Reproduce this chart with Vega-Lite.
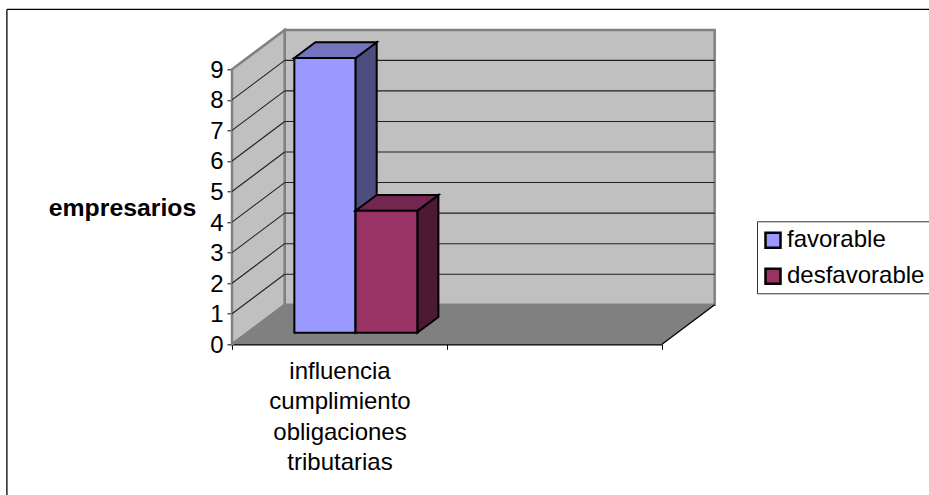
{"$schema":"https://vega.github.io/schema/vega-lite/v6.json","width":430,"height":275,"autosize":{"type":"none"},"padding":{"left":232,"top":69.3,"right":267,"bottom":150.7},"background":"white",
"datasets":{
"walls":[{"part":"back","x":0.245,"y":1.293,"y2":10.29},{"part":"back","x":2.245,"y":1.293,"y2":10.29},{"part":"side","x":0,"y":0,"y2":9},{"part":"side","x":0.245,"y":1.293,"y2":10.29}],
"floor":[{"part":"floor","x":0,"y":0,"y2":0},{"part":"floor","x":0.245,"y":0,"y2":1.293},{"part":"floor","x":2,"y":0,"y2":1.293},{"part":"floor","x":2.245,"y":1.293,"y2":1.293}],
"faces":[
{"serie":"favorable","x":0.29,"y":0.38,"y2":9.37},{"serie":"favorable","x":0.575,"y":0.38,"y2":9.37},
{"serie":"favorable lado","x":0.575,"y":0.38,"y2":9.37},{"serie":"favorable lado","x":0.673,"y":0.894,"y2":9.884},
{"serie":"favorable techo","x":0.29,"y":9.37,"y2":9.37},{"serie":"favorable techo","x":0.388,"y":9.37,"y2":9.884},{"serie":"favorable techo","x":0.575,"y":9.37,"y2":9.884},{"serie":"favorable techo","x":0.673,"y":9.884,"y2":9.884},
{"serie":"desfavorable lado","x":0.862,"y":0.38,"y2":4.37},{"serie":"desfavorable lado","x":0.96,"y":0.894,"y2":4.884},
{"serie":"desfavorable techo","x":0.575,"y":4.37,"y2":4.37},{"serie":"desfavorable techo","x":0.673,"y":4.37,"y2":4.884},{"serie":"desfavorable techo","x":0.862,"y":4.37,"y2":4.884},{"serie":"desfavorable techo","x":0.96,"y":4.884,"y2":4.884},
{"serie":"desfavorable","x":0.575,"y":0.38,"y2":4.37},{"serie":"desfavorable","x":0.862,"y":0.38,"y2":4.37}],
"grid":[
{"x":0.245,"x2":2.245,"y":2.293,"y2":2.293},{"x":0.245,"x2":2.245,"y":3.293,"y2":3.293},{"x":0.245,"x2":2.245,"y":4.293,"y2":4.293},{"x":0.245,"x2":2.245,"y":5.293,"y2":5.293},{"x":0.245,"x2":2.245,"y":6.293,"y2":6.293},{"x":0.245,"x2":2.245,"y":7.293,"y2":7.293},{"x":0.245,"x2":2.245,"y":8.293,"y2":8.293},{"x":0.245,"x2":2.245,"y":9.293,"y2":9.293},
{"x":0,"x2":0.245,"y":1,"y2":2.293},{"x":0,"x2":0.245,"y":2,"y2":3.293},{"x":0,"x2":0.245,"y":3,"y2":4.293},{"x":0,"x2":0.245,"y":4,"y2":5.293},{"x":0,"x2":0.245,"y":5,"y2":6.293},{"x":0,"x2":0.245,"y":6,"y2":7.293},{"x":0,"x2":0.245,"y":7,"y2":8.293},{"x":0,"x2":0.245,"y":8,"y2":9.293}],
"edges":[{"x":2,"x2":2.245,"y":0,"y2":1.293},{"x":-1.047,"x2":-1.047,"y":-4.93,"y2":10.96},{"x":-1.047,"x2":3.25,"y":10.96,"y2":10.96}]
},
"encoding":{
"x":{"field":"x","type":"quantitative","title":null,"scale":{"domain":[0,2],"nice":false,"zero":false},
 "axis":{"values":[0,0.5,1,2],"title":null,"grid":false,"ticks":true,"tickSize":5,"tickColor":"#000","tickWidth":1,"tickOpacity":{"condition":{"test":"datum.value==0.5","value":0},"value":1},"domain":true,"domainColor":"#000","domainWidth":1.5,"labelExpr":"datum.value==0.5 ? ['influencia','cumplimiento','obligaciones','tributarias'] : ''","labelFont":"Liberation Sans","labelFontSize":24,"labelColor":"#000","labelPadding":10,"labelLineHeight":30.4,"labelAlign":"center","labelOverlap":false,"labelBound":false,"labelFlush":false}},
"y":{"field":"y","type":"quantitative","title":"empresarios","stack":null,"scale":{"domain":[0,9],"nice":false,"zero":false},
 "axis":{"values":[0,1,2,3,4,5,6,7,8,9],"format":"d","grid":false,"domain":true,"domainColor":"#808080","domainWidth":2,"tickColor":"#000","tickSize":5,"tickWidth":1,"labelFont":"Liberation Sans","labelFontSize":24,"labelColor":"#000","labelPadding":4,"labelOffset":1,"labelOverlap":false,"title":"empresarios","titleFont":"Liberation Sans","titleFontSize":24.8,"titleFontWeight":"bold","titleColor":"#000","titleAngle":0,"titleAlign":"center","titleBaseline":"alphabetic","titleX":-110,"titleY":146}}
},
"layer":[
{"data":{"name":"walls"},"mark":{"type":"area","orient":"vertical","fill":"#c0c0c0","stroke":"#808080","strokeWidth":2.5,"clip":false},
 "encoding":{"y2":{"field":"y2"},"detail":{"field":"part"}}},
{"data":{"name":"floor"},"mark":{"type":"area","orient":"vertical","fill":"#808080","clip":false},"encoding":{"y2":{"field":"y2"},"detail":{"field":"part"}}},
{"data":{"name":"grid"},"mark":{"type":"rule","stroke":"#222","strokeWidth":1.1,"clip":false},
 "encoding":{"x2":{"field":"x2"},"y2":{"field":"y2"}}},
{"data":{"name":"edges"},"mark":{"type":"rule","stroke":"#000","strokeWidth":1.3,"clip":false},"encoding":{"x2":{"field":"x2"},"y2":{"field":"y2"}}},
{"data":{"name":"faces"},"mark":{"type":"area","orient":"vertical","stroke":"#000","strokeWidth":2,"clip":false},
 "encoding":{"y2":{"field":"y2"},
 "color":{"field":"serie","type":"nominal","sort":null,"scale":{"domain":["favorable","favorable lado","favorable techo","desfavorable lado","desfavorable techo","desfavorable"],"range":["#9999ff","#4d4d80","#7373bf","#4d1a33","#732650","#993366"]},
 "legend":{"values":["favorable","desfavorable"],"title":" ","titleFontSize":1,"titlePadding":2,"orient":"none","legendX":525,"legendY":152,"symbolType":"square","symbolSize":225,"symbolStrokeColor":"#000","symbolStrokeWidth":2.5,"labelFont":"Liberation Sans","labelFontSize":24,"labelColor":"#000","labelLimit":300,"labelExpr":"datum.label + '\u00a0\u00a0'","strokeColor":"#333","fillColor":"#fff","padding":4,"rowPadding":10,"labelOffset":2}}}}
],
"config":{"view":{"stroke":null}}
}
